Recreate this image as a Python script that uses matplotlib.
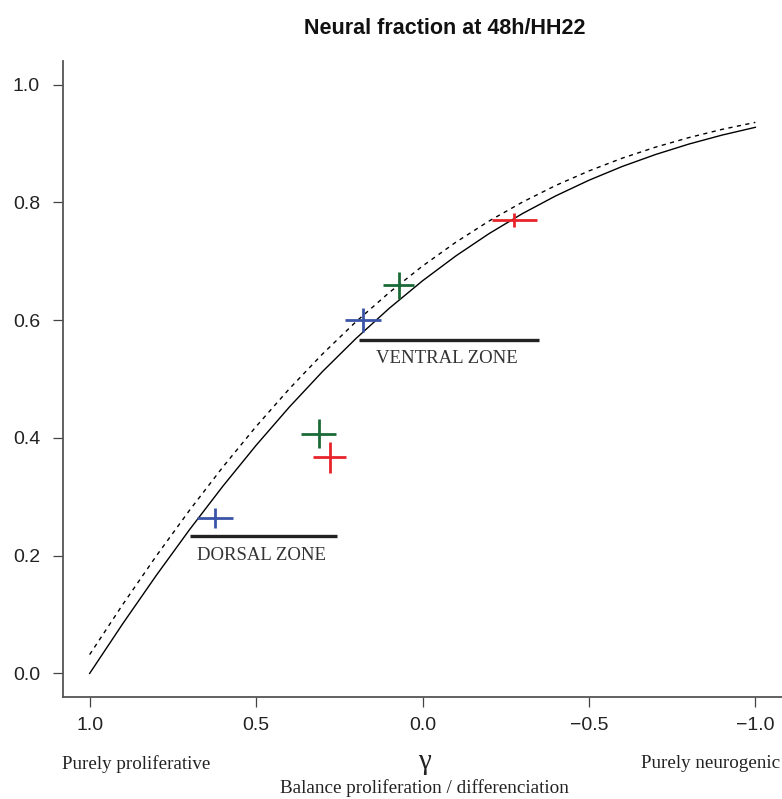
import matplotlib
matplotlib.use('Agg')
import matplotlib.pyplot as plt

# Model curves: neural fraction as a function of gamma
gamma = [1.0, 0.9, 0.8, 0.7, 0.6, 0.5, 0.4, 0.3, 0.2, 0.1, 0.0,
         -0.1, -0.2, -0.3, -0.4, -0.5, -0.6, -0.7, -0.8, -0.9, -1.0]
fraction_solid = [0.0, 0.0849, 0.1663, 0.2441, 0.3178, 0.3873, 0.4524, 0.5129, 0.5687, 0.6200, 0.6667,
                  0.7089, 0.7469, 0.7808, 0.8109, 0.8375, 0.8609, 0.8812, 0.8989, 0.9142, 0.9274]
fraction_dashed = [0.0320, 0.1175, 0.1993, 0.2770, 0.3504, 0.4193, 0.4834, 0.5427, 0.5972, 0.6468, 0.6918,
                   0.7322, 0.7683, 0.8003, 0.8286, 0.8533, 0.8750, 0.8937, 0.9099, 0.9239, 0.9358]

# Measured points (dorsal then ventral), with errors
point_gamma = [0.624, 0.312, 0.279, 0.179, 0.072, -0.276]
point_fraction = [0.264, 0.407, 0.367, 0.600, 0.659, 0.770]
point_gamma_err = [0.054, 0.053, 0.049, 0.054, 0.0475, 0.0675]
point_fraction_err = [0.0165, 0.0245, 0.0265, 0.0205, 0.0235, 0.0115]
point_colors = ['#3a55a8', '#1b6b38', '#e8232b', '#3a55a8', '#1b6b38', '#e8232b']

# Zones: name, gamma range, level, label position
zone_names = ['DORSAL ZONE', 'VENTRAL ZONE']
zone_gamma_start = [0.697, 0.192]
zone_gamma_end = [0.257, -0.351]
zone_level = [0.2334, 0.5656]
zone_label_gamma = [0.483, -0.072]
zone_label_fraction = [0.201, 0.534]

xticks = [1.0, 0.5, 0.0, -0.5, -1.0]
xtick_labels = ['1.0', '0.5', '0.0', '\u22120.5', '\u22121.0']
yticks = [0.0, 0.2, 0.4, 0.6, 0.8, 1.0]
ytick_labels = ['0.0', '0.2', '0.4', '0.6', '0.8', '1.0']


def make_plot():
    """ Neural fraction versus gamma with dorsal/ventral measurements

    Returns
    -------
    fig: matplotlib figure

    """
    fig = plt.figure(figsize=(7.82, 7.99), dpi=100)
    ax = fig.add_axes([63 / 782, 102 / 799, 719 / 782, 636 / 799])

    ax.plot(gamma, fraction_solid, color='black', lw=1.0)
    ax.plot(gamma, fraction_dashed, color='black', lw=1.0, linestyle=(0, (3, 3.2)))

    for x, y, xe, ye, c in zip(point_gamma, point_fraction, point_gamma_err,
                               point_fraction_err, point_colors):
        ax.errorbar(x, y, xerr=xe, yerr=ye, fmt='none', ecolor=c, elinewidth=2.0, capsize=0)

    for name, x0, x1, lev, lx, ly in zip(zone_names, zone_gamma_start, zone_gamma_end,
                                         zone_level, zone_label_gamma, zone_label_fraction):
        ax.plot([x0, x1], [lev, lev], color='#222222', lw=2.4, solid_capstyle='butt')
        ax.text(lx, ly, name, ha='center', va='center', fontsize=13.5,
                family='Liberation Serif', color='#333333')

    ax.set_xlim(1.08, -1.08)
    ax.set_ylim(-0.04, 1.04)
    ax.set_xticks(xticks)
    ax.set_xticklabels(xtick_labels)
    ax.set_yticks(yticks)
    ax.set_yticklabels(ytick_labels)
    for lab in ax.get_xticklabels() + ax.get_yticklabels():
        lab.set_family('Liberation Sans')
        lab.set_fontsize(14)
        lab.set_color('#222222')
    ax.tick_params(axis='both', direction='out', length=7.5, width=0.9, color='#444444')
    ax.tick_params(axis='y', pad=9)
    ax.tick_params(axis='x', pad=7)

    for side in ['top', 'right']:
        ax.spines[side].set_visible(False)
    for side in ['left', 'bottom']:
        ax.spines[side].set_color('#555555')
        ax.spines[side].set_linewidth(1.3)

    fig.text(445 / 782, 1 - 28 / 799, 'Neural fraction at 48h/HH22', ha='center', va='center',
             fontsize=15.5, fontweight='bold', family='Liberation Sans', color='#111111')

    serif = 'Liberation Serif'
    fig.text(62 / 782, 1 - 764 / 799, 'Purely proliferative', ha='left', va='center',
             fontsize=13.7, family=serif, color='#222222')
    fig.text(780 / 782, 1 - 764 / 799, 'Purely neurogenic', ha='right', va='center',
             fontsize=13.7, family=serif, color='#222222')
    fig.text(424 / 782, 1 - 762 / 799, '\u03b3', ha='center', va='center',
             fontsize=21, family=serif, color='#222222')
    fig.text(424 / 782, 1 - 788 / 799, 'Balance proliferation / differenciation', ha='center',
             va='center', fontsize=13.8, family=serif, color='#222222')

    return fig


if __name__ == '__main__':
    fig = make_plot()
    fig.savefig('out.png', dpi=100)
